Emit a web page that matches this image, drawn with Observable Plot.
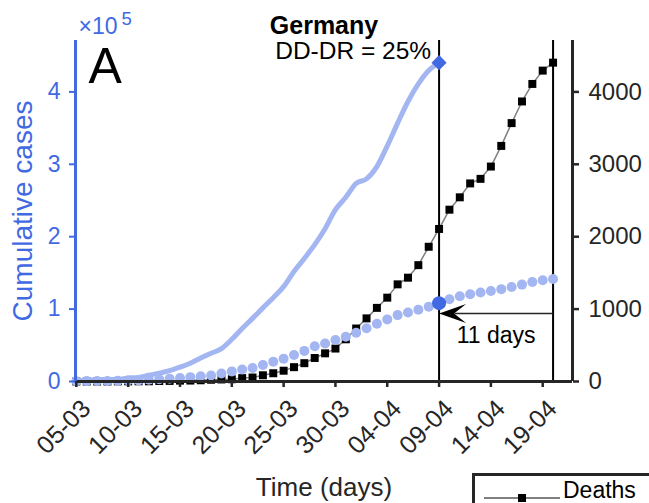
<!DOCTYPE html>
<html><head><meta charset="utf-8">
<script src="https://cdn.jsdelivr.net/npm/d3@7"></script>
<script src="https://cdn.jsdelivr.net/npm/@observablehq/plot@0.6"></script>
<style>
html,body{margin:0;padding:0;background:#fff;overflow:hidden;}
#wrap{position:relative;width:649px;height:503px;font-family:"Liberation Sans",Arial,Helvetica,sans-serif;}
#legend{position:absolute;left:472px;top:473px;width:200px;height:60px;border:3px solid #262626;box-sizing:border-box;background:#fff;}
#legend svg{position:absolute;left:6px;top:12px;}
#legend span{position:absolute;left:88px;top:3px;font-size:23px;line-height:23px;color:#000;white-space:nowrap;}
</style></head><body><div id="wrap"><div id="legend"><svg width="80" height="20"><line x1="3" y1="10" x2="79" y2="10" stroke="#808080" stroke-width="2"/><rect x="37" y="6" width="8" height="8" fill="#000"/></svg><span>Deaths</span></div></div>
<script>
// ---- data ----
const dates = ["2020-03-05","2020-03-06","2020-03-07","2020-03-08","2020-03-09","2020-03-10","2020-03-11","2020-03-12","2020-03-13","2020-03-14","2020-03-15","2020-03-16","2020-03-17","2020-03-18","2020-03-19","2020-03-20","2020-03-21","2020-03-22","2020-03-23","2020-03-24","2020-03-25","2020-03-26","2020-03-27","2020-03-28","2020-03-29","2020-03-30","2020-03-31","2020-04-01","2020-04-02","2020-04-03","2020-04-04","2020-04-05","2020-04-06","2020-04-07","2020-04-08","2020-04-09","2020-04-10","2020-04-11","2020-04-12","2020-04-13","2020-04-14","2020-04-15","2020-04-16","2020-04-17","2020-04-18","2020-04-19","2020-04-20"];
const cases = [349,534,639,795,1112,1296,1567,2369,3062,3795,4838,6012,7156,8198,10999,13957,16662,18610,22672,27436,31554,36508,42288,48582,52547,57298,61913,67366,73522,79696,85778,91714,95391,99225,103228,108202,113525,117658,120479,123016,125098,127584,130450,133830,137439,139897,141672];
const deaths = [0,0,0,0,2,2,3,3,7,8,12,13,17,24,28,31,47,55,86,114,149,198,253,325,389,455,583,732,872,1017,1158,1342,1434,1607,1861,2107,2373,2544,2736,2799,2969,3254,3569,3868,4110,4294,4404];
// light curve: deaths 11 days later in case-equivalents, ending at 09-04
const projectedDates = ["2020-03-05","2020-03-06","2020-03-07","2020-03-08","2020-03-09","2020-03-10","2020-03-11","2020-03-12","2020-03-13","2020-03-14","2020-03-15","2020-03-16","2020-03-17","2020-03-18","2020-03-19","2020-03-20","2020-03-21","2020-03-22","2020-03-23","2020-03-24","2020-03-25","2020-03-26","2020-03-27","2020-03-28","2020-03-29","2020-03-30","2020-03-31","2020-04-01","2020-04-02","2020-04-03","2020-04-04","2020-04-05","2020-04-06","2020-04-07","2020-04-08","2020-04-09"];
const projected = [1300,1700,2400,2800,3100,4700,5500,8600,11400,14900,19800,25300,32500,38900,45500,58300,73200,87200,101700,115800,131000,152000,170000,189000,211000,237300,254400,273600,279900,296900,325400,356900,386800,411000,429400,440400];
const xTicks = ["2020-03-05","2020-03-10","2020-03-15","2020-03-20","2020-03-25","2020-03-30","2020-04-04","2020-04-09","2020-04-14","2020-04-19"];
const leftTicks = [0,100000,200000,300000,400000];
const markerDate = "2020-04-09";
const lagEndDate = "2020-04-20";
const markerCases = 108202;
const markerProjected = 440400;
const arrowY = 94000;
const lagLabel = "11 days";
const labelDate = "2020-04-14T12:00";
const labelY = 64000;
const title = "Germany";
const subtitle = "DD-DR = 25%";
const panel = "A";

const P = s => new Date(s + (s.length === 10 ? "T00:00Z" : "Z"));
const blue = "#4169e1", light = "#a3b6f1", ink = "#262626";
const caseRows = dates.map((d, i) => ({date: P(d), v: cases[i]}));
const deathRows = dates.map((d, i) => ({date: P(d), v: deaths[i]}));
const projRows = projectedDates.map((d, i) => ({date: P(d), v: projected[i]}));
const xDomain = [P("2020-03-04T22:00"), P("2020-04-21T21:00")];
const yMax = 471000;

const arrowHead = {draw(ctx) { ctx.moveTo(0, 0); ctx.lineTo(27, -9.5); ctx.lineTo(15, 0); ctx.lineTo(27, 9.5); ctx.closePath(); }};

const chart = Plot.plot({
  width: 649, height: 503,
  marginLeft: 75, marginRight: 77, marginTop: 40, marginBottom: 122,
  style: {fontFamily: '"Liberation Sans", Arial, Helvetica, sans-serif', background: "white", overflow: "visible"},
  x: {type: "utc", domain: xDomain},
  y: {domain: [0, yMax]},
  marks: [
    Plot.ruleX([P(markerDate), P(lagEndDate)], {y1: 0, y2: yMax, stroke: "black", strokeWidth: 2}),
    Plot.line(deathRows, {x: "date", y: d => d.v * 100, stroke: "#808080", strokeWidth: 1.5}),
    Plot.dot(deathRows, {x: "date", y: d => d.v * 100, symbol: "square", r: 4.5, fill: "black"}),
    Plot.line(projRows, {x: "date", y: "v", stroke: light, strokeWidth: 5, curve: "monotone-x"}),
    Plot.dot(caseRows, {x: "date", y: "v", r: 5, fill: light}),
    Plot.link([0], {x1: P(lagEndDate), x2: P("2020-04-10T12:00"), y1: arrowY, y2: arrowY, stroke: ink, strokeWidth: 1.5}),
    Plot.dot([0], {x: P(markerDate), y: arrowY, symbol: arrowHead, fill: "black", r: 5}),
    Plot.dot([0], {x: P(markerDate), y: markerCases, r: 7, fill: blue}),
    Plot.dot([0], {x: P(markerDate), y: markerProjected, symbol: "diamond2", r: 6.8, fill: blue}),
    // axis lines
    Plot.ruleY([0], {stroke: ink, strokeWidth: 3}),
    Plot.ruleX([xDomain[1]], {stroke: ink, strokeWidth: 3}),
    Plot.ruleX([xDomain[0]], {stroke: blue, strokeWidth: 3}),
    // x ticks and rotated labels
    Plot.axisX({ticks: xTicks.map(P), tickFormat: () => "", tickSize: 6, stroke: ink, strokeWidth: 2.5, label: null}),
    Plot.axisX({ticks: xTicks.map(P), tickFormat: d3.utcFormat("%d-%m"), tickRotate: -45, tickSize: 0, tickPadding: 9, fontSize: 25, fill: ink, label: null, dx: 10, dy: 14}),
    Plot.axisY({anchor: "left", ticks: leftTicks, tickFormat: d => String(d / 100000), tickSize: 6, tickPadding: 9, fontSize: 23, stroke: blue, fill: blue, strokeWidth: 2, label: null}),
    Plot.axisY({anchor: "right", ticks: leftTicks, tickFormat: d => String(d / 100), tickSize: 6, tickPadding: 10, fontSize: 24, stroke: ink, fill: ink, strokeWidth: 2.5, label: null}),
    // texts
    Plot.text(["Cumulative cases"], {frameAnchor: "left", rotate: -90, dx: -52, fill: blue, fontSize: 28, textAnchor: "middle", lineAnchor: "middle"}),
    Plot.text(["Time (days)"], {frameAnchor: "bottom", dy: 96, fill: ink, fontSize: 26, lineAnchor: "top"}),
    Plot.text(["×10"], {frameAnchor: "top-left", dx: 3, dy: -7, fill: blue, fontSize: 23, textAnchor: "start", lineAnchor: "bottom"}),
    Plot.text(["5"], {frameAnchor: "top-left", dx: 46, dy: -16, fill: blue, fontSize: 18.5, textAnchor: "start", lineAnchor: "bottom"}),
    Plot.text([panel], {frameAnchor: "top-left", dx: 13, dy: 7, fill: "black", fontSize: 50, textAnchor: "start", lineAnchor: "top"}),
    Plot.text([title], {frameAnchor: "top", dy: -7, fill: "black", fontSize: 25, fontWeight: "bold", lineAnchor: "bottom"}),
    Plot.text([subtitle], {x: P(markerDate), y: yMax, dx: -8, dy: 1, fill: "black", fontSize: 24.5, textAnchor: "end", lineAnchor: "top"}),
    Plot.text([lagLabel], {x: P(labelDate), y: labelY, fill: "black", fontSize: 23, lineAnchor: "middle"})
  ]
});
document.getElementById("wrap").prepend(chart);
</script></body></html>
